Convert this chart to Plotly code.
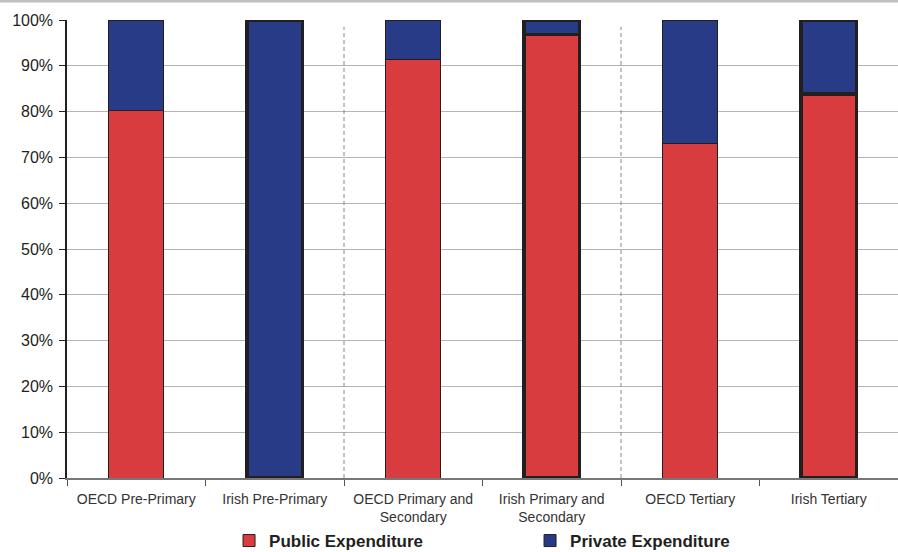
import plotly.graph_objects as go

categories = ["OECD Pre-Primary", "Irish Pre-Primary", "OECD Primary and<br>Secondary",
              "Irish Primary and<br>Secondary", "OECD Tertiary", "Irish Tertiary"]
public_exp = [80.2, 0.0, 91.4, 96.8, 73.1, 83.8]
private_exp = [19.8, 100.0, 8.6, 3.2, 26.9, 16.2]
y_ticks = [0, 10, 20, 30, 40, 50, 60, 70, 80, 90, 100]
y_labels = [f"{v}%" for v in y_ticks]

RED = "#d83c3e"
BLUE = "#273b87"
EDGE = "#231f20"
line_widths = [1, 3.5, 1, 3.5, 1, 3.5]

fig = go.Figure()
fig.add_trace(go.Bar(x=categories, y=public_exp, name="Public Expenditure",
                     marker=dict(color=RED, line=dict(color=EDGE, width=line_widths)),
                     width=0.4))
fig.add_trace(go.Bar(x=categories, y=private_exp, name="Private Expenditure",
                     marker=dict(color=BLUE, line=dict(color=EDGE, width=line_widths)),
                     width=0.4))

# figure is slightly taller than the 552 px window; bottom legend padding is clipped
FIG_H = 559
PAPER_H = FIG_H - 20
DOM0 = (FIG_H - 478) / PAPER_H

fig.update_layout(
    barmode="stack",
    width=898, height=FIG_H,
    margin=dict(l=67, r=0, t=20, b=0),
    plot_bgcolor="white", paper_bgcolor="white",
    font=dict(family="Liberation Sans, Arial, sans-serif", color="#231f20"),
    showlegend=True,
    legend=dict(orientation="h", xref="paper", x=0.195, xanchor="left",
                yref="paper", y=0, yanchor="bottom",
                font=dict(size=17, color="#231f20", family="Liberation Sans, Arial, sans-serif",
                          weight="bold"),
                entrywidth=256, entrywidthmode="pixels", itemwidth=30,
                traceorder="normal", bgcolor="rgba(0,0,0,0)"),
    xaxis=dict(type="category", tickson="boundaries", ticks="outside", ticklen=6,
               tickcolor="#555555", showline=True, linecolor="#777777", linewidth=1.5,
               tickfont=dict(size=14, color="#333333"), showgrid=False,
               ticklabelstandoff=7, range=[-0.5, 5.5], automargin=False),
    yaxis=dict(range=[0, 100], tickvals=y_ticks, ticktext=y_labels, ticks="outside",
               ticklen=6, tickcolor="#231f20", showline=True, linecolor="#231f20",
               linewidth=1.5, showgrid=True, gridcolor="#b5b5b5", gridwidth=1,
               tickfont=dict(size=16, color="#231f20"), zeroline=False,
               ticklabelstandoff=3, domain=[DOM0, 1], automargin=False),
    bargap=0.6,
)

for xpos in [1.5, 3.5]:
    fig.add_shape(type="line", xref="x", yref="y domain", x0=xpos, x1=xpos, y0=0, y1=0.985,
                  line=dict(color="#888888", width=1, dash="4px,3px"))

fig.add_shape(type="line", xref="paper", yref="paper", x0=-0.09, x1=1.01,
              y0=1 + 19 / PAPER_H, y1=1 + 19 / PAPER_H,
              line=dict(color="#c0c0c0", width=3))

fig.write_html("out.html", config={"displayModeBar": False},
               post_script="document.body.style.margin='0';"
                           "document.body.style.overflow='hidden';"
                           "document.documentElement.style.overflow='hidden';")
